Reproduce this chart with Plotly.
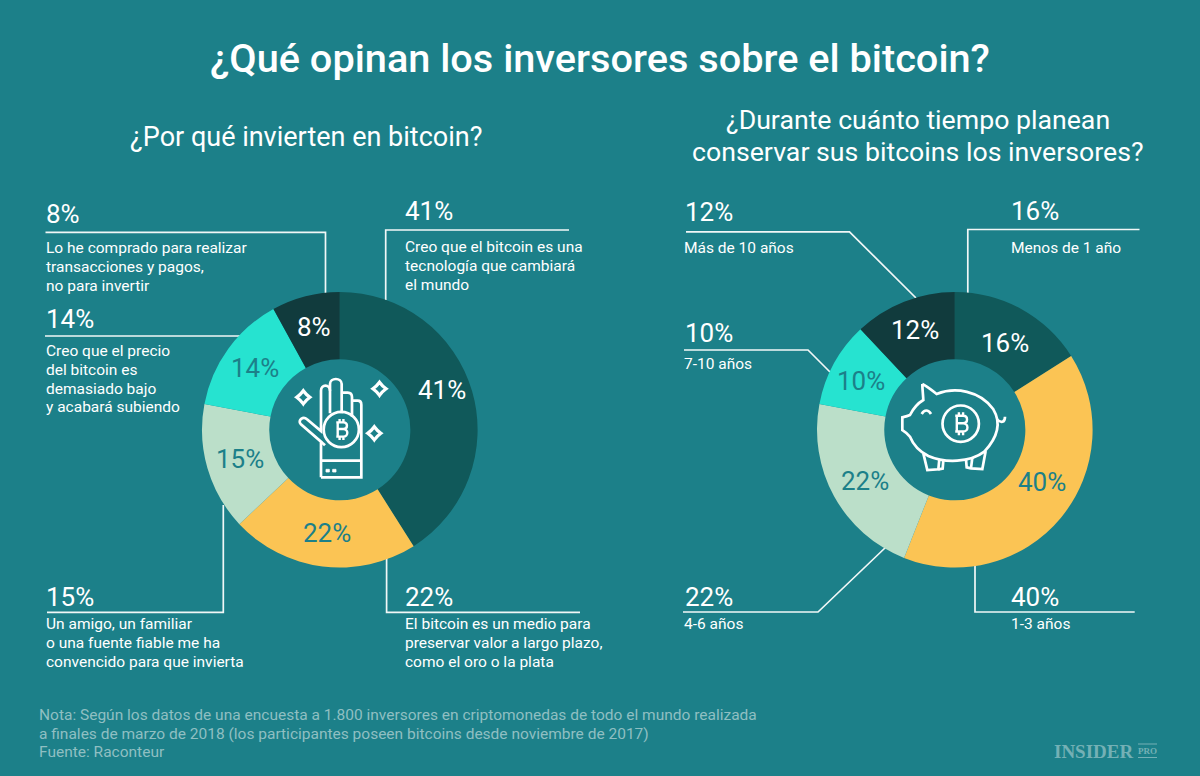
import plotly.graph_objects as go

# ---------- data ----------
left_categories = ["Cambiará el mundo", "Preservar valor", "Amigo o familiar", "Precio bajo", "Transacciones y pagos"]
left_values = [41, 22, 15, 14, 8]
right_categories = ["Menos de 1 año", "1-3 años", "4-6 años", "7-10 años", "Más de 10 años"]
right_values = [16, 40, 22, 10, 12]

TITLE = "¿Qué opinan los inversores sobre el bitcoin?"
LEFT_SUB = "¿Por qué invierten en bitcoin?"
RIGHT_SUB = ["¿Durante cuánto tiempo planean", "conservar sus bitcoins los inversores?"]
NOTE = ["Nota: Según los datos de una encuesta a 1.800 inversores en criptomonedas de todo el mundo realizada",
        "a finales de marzo de 2018 (los participantes poseen bitcoins desde noviembre de 2017)",
        "Fuente: Raconteur"]

# ---------- style ----------
BG = "#1c8089"
FONT = "Roboto"
WHITE = "#ffffff"
ring_colors = ["#10595a", "#fbc454", "#bbdfc9", "#26e3d0", "#113b3d"]
R = 137.8
HOLE = 0.512
W, H = 1200, 776


def domain(cx, cy):
    return dict(x=[(cx - R) / W, (cx + R) / W], y=[1 - (cy + R) / H, 1 - (cy - R) / H])


fig = go.Figure()
fig.add_trace(go.Pie(labels=left_categories, values=left_values, domain=domain(339.8, 429.8), hole=HOLE,
                     sort=False, direction="clockwise", rotation=0, textinfo="none", hoverinfo="label+percent",
                     marker=dict(colors=ring_colors, line=dict(width=0)), showlegend=False))
fig.add_trace(go.Pie(labels=right_categories, values=right_values, domain=domain(954.8, 429.8), hole=HOLE,
                     sort=False, direction="clockwise", rotation=0, textinfo="none", hoverinfo="label+percent",
                     marker=dict(colors=ring_colors, line=dict(width=0)), showlegend=False))

# leader lines (pixel-based hidden axes)
leaders = [
    ([45.5, 325.5, 325.5], [232.3, 232.3, 296]),
    ([45, 240], [336, 336]),
    ([569, 385.7, 385.7], [230, 230, 300]),
    ([47, 223.3, 223.3], [612.3, 612.3, 505]),
    ([580, 386.6, 386.6], [612.3, 612.3, 555]),
    ([686, 849.5, 916], [231.8, 231.8, 298]),
    ([684, 808, 830], [350, 350, 372]),
    ([683, 818, 886], [612, 612, 547]),
    ([1134.7, 975, 975], [612, 612, 564]),
    ([1139.5, 967.8, 967.8], [229.5, 229.5, 295]),
]
for xs, ys in leaders:
    fig.add_trace(go.Scatter(x=xs, y=ys, mode="lines", line=dict(color="#f1f7f7", width=1.7),
                             hoverinfo="skip", showlegend=False))

annotations = []


def text(x, y, s, size, color=WHITE, anchor="left", family=FONT, weight=None):
    annotations.append(dict(x=x, y=y, xref="x", yref="y", text=s, showarrow=False, xanchor=anchor, yanchor="middle",
                            align=anchor, borderpad=0, borderwidth=0,
                            font=dict(family=family, size=size, color=color, **({"weight": weight} if weight else {}))))


text(600, 58, TITLE, 39.7, anchor="center", weight=500)
text(306, 137, LEFT_SUB, 27, anchor="center")
text(918, 120, RIGHT_SUB[0], 26.7, anchor="center")
text(918, 152, RIGHT_SUB[1], 26.7, anchor="center")

PCT = 26
BODY = 15.5
LINE = 18.8
for x, y, s in [(46, 214, "8%"), (46, 319, "14%"), (405, 211, "41%"), (46, 597, "15%"), (405, 597, "22%"),
                (685, 212, "12%"), (685, 333, "10%"), (685, 597, "22%"), (1011, 211, "16%"), (1011, 597, "40%")]:
    text(x, y, s, PCT)
for x, y, lines in [
    (46, 248, ["Lo he comprado para realizar", "transacciones y pagos,", "no para invertir"]),
    (46, 351, ["Creo que el precio", "del bitcoin es", "demasiado bajo", "y acabará subiendo"]),
    (405, 247, ["Creo que el bitcoin es una", "tecnología que cambiará", "el mundo"]),
    (46, 624, ["Un amigo, un familiar", "o una fuente fiable me ha", "convencido para que invierta"]),
    (405, 624, ["El bitcoin es un medio para", "preservar valor a largo plazo,", "como el oro o la plata"]),
    (684, 248, ["Más de 10 años"]),
    (684, 364, ["7-10 años"]),
    (684, 624, ["4-6 años"]),
    (1011, 248, ["Menos de 1 año"]),
    (1011, 624, ["1-3 años"]),
]:
    for i, line in enumerate(lines):
        text(x, y + i * LINE, line, BODY)

# labels on the rings
DK = "#1c8089"
for x, y, s, c in [(441.5, 390, "41%", WHITE), (327, 533, "22%", DK), (240, 459, "15%", DK),
                   (255, 368, "14%", DK), (314, 326.5, "8%", WHITE),
                   (1005, 343, "16%", WHITE), (1042, 482, "40%", DK), (865, 480.5, "22%", DK),
                   (861, 381, "10%", DK), (915, 330, "12%", WHITE)]:
    text(x, y, s, PCT, color=c, anchor="center")

# note and logo
for i, line in enumerate(NOTE):
    text(39, 715 + i * 18.5, line, 15.5, color="#8fbfc2")
LOGO = "#74b0b5"
text(1054, 751, "INSIDER", 19, color=LOGO, family="Liberation Serif", weight=700)
text(1147.5, 751, "PRO", 9, color=LOGO, family="Liberation Serif", anchor="center", weight=700)

# ---------- icons ----------
shapes = []
STROKE = 2.7


def path(ox, oy, *cmds, scale=3.0):
    """Build an SVG path from coordinates measured on a 3x crop whose corner is (ox, oy)."""
    def f(p):
        return f"{ox + p[0] / scale:.2f},{oy + p[1] / scale:.2f}"
    out = []
    for c in cmds:
        if c[0] == "Z":
            out.append("Z")
        else:
            out.append(c[0] + " " + " ".join(f(p) for p in c[1:]))
    return " ".join(out)


def add(d, width=STROKE, fill=None):
    shapes.append(dict(type="path", path=d, xref="x", yref="y", layer="above",
                       line=dict(color=WHITE, width=width), fillcolor=fill or "rgba(0,0,0,0)"))


def circle(cx, cy, r, width=STROKE):
    shapes.append(dict(type="circle", xref="x", yref="y", x0=cx - r, x1=cx + r, y0=cy - r, y1=cy + r, layer="above",
                       line=dict(color=WHITE, width=width), fillcolor="rgba(0,0,0,0)"))


def bitcoin(cx, cy, s=1.0):
    def q(p):
        return f"{cx + p[0] * s:.2f},{cy + p[1] * s:.2f}"
    d = (f"M {q((-5.5, -7.5))} L {q((2, -7.5))} C {q((7, -7.5))} {q((7, -0.5))} {q((2, -0.5))} L {q((-4.5, -0.5))} "
         f"M {q((2, -0.5))} C {q((7.5, -0.5))} {q((7.5, 7.5))} {q((2, 7.5))} L {q((-5.5, 7.5))} "
         f"M {q((-4, -7.5))} L {q((-4, 7.5))}")
    for tx in (-2, 2):
        d += f" M {q((tx, -7.5))} L {q((tx, -11))} M {q((tx, 7.5))} L {q((tx, 11))}"
    add(d, width=2.4)


# hand (from the 3x crop at 280,370)
hx, hy = 280, 370
add(path(hx, hy, ("M", (123, 322)), ("L", (123, 215)), ("L", (62, 162)),
         ("C", (52, 150), (70, 138), (80, 147)), ("L", (123, 183)), ("L", (123, 62)),
         ("C", (123, 42), (150, 42), (150, 62))))
add(path(hx, hy, ("M", (150, 130)), ("L", (150, 42)), ("C", (150, 22), (185, 22), (185, 42)), ("L", (185, 130))))
add(path(hx, hy, ("M", (185, 68)), ("L", (203, 68)), ("C", (212, 68), (216, 74), (216, 82)), ("L", (216, 140))))
add(path(hx, hy, ("M", (216, 92)), ("L", (233, 92)), ("C", (240, 92), (244, 96), (244, 104)),
         ("L", (244, 322)), ("L", (123, 322))))
add(path(hx, hy, ("M", (123, 272)), ("L", (244, 272))))
add(path(hx, hy, ("M", (123, 215)), ("L", (135, 226))))
add(path(hx, hy, ("M", (138, 298)), ("L", (148, 298)), ("L", (148, 306)), ("L", (138, 306)), ("Z",)), width=0.8, fill=WHITE)
add(path(hx, hy, ("M", (158, 298)), ("L", (168, 298)), ("L", (168, 306)), ("L", (158, 306)), ("Z",)), width=0.8, fill=WHITE)
circle(341.3, 429.5, 17.6)
bitcoin(341.5, 429.5, 0.95)


def sparkle(cx, cy, r=6.6):
    k = 0.42
    d = (f"M {cx},{cy - r} Q {cx + k * r},{cy - k * r} {cx + r},{cy} Q {cx + k * r},{cy + k * r} {cx},{cy + r} "
         f"Q {cx - k * r},{cy + k * r} {cx - r},{cy} Q {cx - k * r},{cy - k * r} {cx},{cy - r} Z")
    add(d, width=3.2)


sparkle(303.3, 397.3)
sparkle(379.5, 388.8)
sparkle(374.3, 433.3)

# piggy bank (from the 3x crop at 895,370)
px, py = 895, 370
add(path(px, py, ("M", (82, 42)), ("C", (95, 48), (110, 60), (125, 72)),
         ("C", (180, 50), (255, 62), (295, 118)),
         ("C", (320, 160), (305, 205), (268, 245)),
         ("C", (225, 278), (150, 280), (100, 258)),
         ("C", (75, 245), (55, 225), (45, 200)),
         ("C", (38, 190), (30, 185), (22, 180)),
         ("C", (22, 165), (22, 155), (22, 142)),
         ("C", (30, 140), (38, 138), (45, 135)),
         ("C", (55, 115), (68, 100), (85, 90)),
         ("C", (84, 72), (82, 55), (82, 42))))
add(path(px, py, ("M", (85, 250)), ("L", (97, 300)), ("L", (130, 298)), ("L", (133, 268))))
add(path(px, py, ("M", (130, 298)), ("L", (143, 296)), ("L", (145, 272))))
add(path(px, py, ("M", (213, 268)), ("L", (215, 292)), ("L", (228, 295)), ("L", (262, 297)), ("L", (272, 243))))
add(path(px, py, ("M", (228, 295)), ("L", (232, 262))))
add(path(px, py, ("M", (305, 148)), ("C", (318, 160), (330, 158), (330, 140))))
add(path(px, py, ("M", (80, 132)), ("C", (88, 118), (100, 118), (108, 132))))
circle(960.7, 423.7, 18.2)
bitcoin(961, 423.7, 1.05)

# logo rules
for ry in (744, 757.5):
    shapes.append(dict(type="line", xref="x", yref="y", x0=1138, x1=1157, y0=ry, y1=ry, layer="above",
                       line=dict(color=LOGO, width=1)))

fig.update_layout(
    width=W, height=H, autosize=False, margin=dict(l=0, r=0, t=0, b=0, pad=0),
    paper_bgcolor=BG, plot_bgcolor=BG, showlegend=False,
    xaxis=dict(range=[0, W], visible=False, fixedrange=True, domain=[0, 1]),
    yaxis=dict(range=[H, 0], visible=False, fixedrange=True, domain=[0, 1]),
    annotations=annotations, shapes=shapes,
    font=dict(family=FONT),
)
fig.write_html("out.html", config=dict(displayModeBar=False),
               post_script="document.body.style.margin='0';document.documentElement.style.background='#1c8089';")
